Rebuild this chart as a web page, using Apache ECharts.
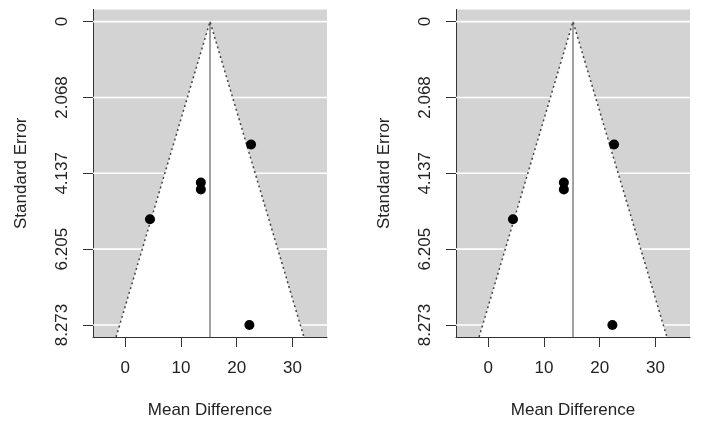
<!DOCTYPE html>
<html><head><meta charset="utf-8">
<script src="https://cdn.jsdelivr.net/npm/echarts@6/dist/echarts.min.js"></script>
<style>html,body{margin:0;padding:0;background:#fff}#c{width:705px;height:428px}</style>
</head><body><div id="c"></div>
<script>
// ---- data ----
const meanDiff = [22.57, 13.56, 13.56, 4.43, 22.27];
const stdErr = [3.35, 4.39, 4.58, 5.39, 8.273];
const pooledEstimate = 15.2;
const zCrit = 1.96;
const yTicks = [0, 2.068, 4.137, 6.205, 8.273];
const yTickLabels = ['0', '2.068', '4.137', '6.205', '8.273'];
const xTicks = [0, 10, 20, 30];
const xTickLabels = ['0', '10', '20', '30'];
const xRange = [-5.8, 36.2];
const yRange = [-0.33, 8.6];
const xTitle = 'Mean Difference';
const yTitle = 'Standard Error';

const FONT = '"Liberation Sans", Arial, sans-serif';
const TXT = '#222';
const FS = 17;
const panelLefts = [93, 456];

const chart = echarts.init(document.getElementById('c'), null, {renderer: 'canvas'});
const grids = [], xAxes = [], yAxes = [], series = [];

panelLefts.forEach((left, i) => {
  grids.push({left: left, top: 9.5, width: 234, height: 327.5, show: true,
    backgroundColor: '#d3d3d3', borderWidth: 0});
  xAxes.push({type: 'value', gridIndex: i, min: xRange[0], max: xRange[1],
    name: xTitle, nameLocation: 'middle', nameGap: 65,
    nameTextStyle: {fontFamily: FONT, fontSize: FS, color: TXT},
    axisLine: {show: true, onZero: false, lineStyle: {color: '#333', width: 1}},
    axisTick: {show: true, length: 10, customValues: xTicks, lineStyle: {color: '#333'}},
    axisLabel: {customValues: xTicks, margin: 23, fontFamily: FONT, fontSize: FS, color: TXT,
      formatter: v => xTickLabels[xTicks.indexOf(v)] ?? String(v)},
    splitLine: {show: false}});
  yAxes.push({type: 'value', gridIndex: i, inverse: true, min: yRange[0], max: yRange[1],
    position: 'left',
    name: yTitle, nameLocation: 'middle', nameGap: 63, nameRotate: 90,
    nameTextStyle: {fontFamily: FONT, fontSize: FS, color: TXT},
    axisLine: {show: true, onZero: false, lineStyle: {color: '#333', width: 1}},
    axisTick: {show: true, length: 10, customValues: yTicks, lineStyle: {color: '#333'}},
    axisLabel: {customValues: yTicks, rotate: 90, margin: 22, fontFamily: FONT, fontSize: FS, color: TXT,
      formatter: v => { const k = yTicks.findIndex(t => Math.abs(t - v) < 1e-6); return k >= 0 ? yTickLabels[k] : ''; }},
    splitLine: {show: false}});

  // white gridlines
  series.push({type: 'custom', xAxisIndex: i, yAxisIndex: i, z: 1, silent: true,
    data: yTicks.map(t => [t]),
    renderItem: (params, api) => {
      const y = api.value(0);
      const p1 = api.coord([xRange[0], y]);
      const p2 = api.coord([xRange[1], y]);
      return {type: 'line', shape: {x1: p1[0], y1: p1[1], x2: p2[0], y2: p2[1]},
        style: {stroke: '#ffffff', lineWidth: 1.6}};
    }});
  // funnel triangle (white fill)
  series.push({type: 'custom', xAxisIndex: i, yAxisIndex: i, z: 2, silent: true,
    data: [[pooledEstimate, yRange[1]]],
    renderItem: (params, api) => {
      const c = api.value(0), yb = api.value(1);
      const apex = api.coord([c, 0]);
      const bl = api.coord([c - zCrit * yb, yb]);
      const br = api.coord([c + zCrit * yb, yb]);
      return {type: 'group', children: [
        {type: 'polygon', shape: {points: [apex, bl, br]}, style: {fill: '#ffffff'}},
        {type: 'polyline', shape: {points: [bl, apex, br]},
          style: {fill: null, stroke: '#444', lineWidth: 1.5, lineDash: [2, 3]}},
        {type: 'line', shape: {x1: apex[0], y1: apex[1], x2: apex[0], y2: api.coord([c, yb])[1]},
          style: {stroke: '#444', lineWidth: 1}}
      ]};
    }});
  // studies
  series.push({type: 'scatter', xAxisIndex: i, yAxisIndex: i, z: 5, symbol: 'circle', symbolSize: 10,
    itemStyle: {color: '#000', opacity: 1}, silent: true,
    data: meanDiff.map((m, k) => [m, stdErr[k]])});
});

chart.setOption({animation: false, grid: grids, xAxis: xAxes, yAxis: yAxes, series: series});
</script>
</body></html>
